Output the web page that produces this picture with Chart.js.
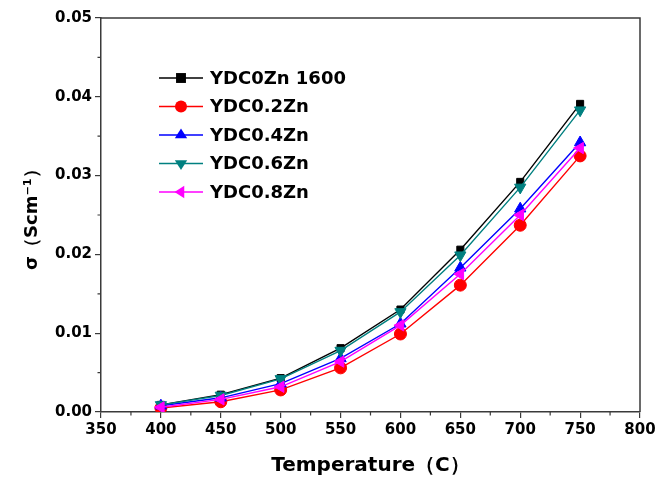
<!DOCTYPE html>
<html>
<head>
<meta charset="utf-8">
<script src="https://cdn.jsdelivr.net/npm/chart.js@4.4.1/dist/chart.umd.min.js"></script>
<style>
  body { margin: 0; background: #fff; }
  #wrap { width: 672px; height: 485px; position: relative; }
</style>
</head>
<body>
<div id="wrap"><canvas id="chart"></canvas></div>
<script>
const temps = [400, 450, 500, 550, 600, 650, 700, 750];

const seriesNames = ['YDC0Zn 1600', 'YDC0.2Zn', 'YDC0.4Zn', 'YDC0.6Zn', 'YDC0.8Zn'];
const zn0 = [0.0009, 0.0022, 0.0043, 0.0081, 0.0130, 0.0206, 0.0292, 0.0391];
const zn02 = [0.0005, 0.0013, 0.0028, 0.0056, 0.0099, 0.0161, 0.0237, 0.0325];
const zn04 = [0.0008, 0.0018, 0.0036, 0.0068, 0.0112, 0.0183, 0.0258, 0.0342];
const zn06 = [0.0009, 0.0021, 0.0042, 0.0078, 0.0127, 0.0199, 0.0285, 0.0383];
const zn08 = [0.0006, 0.0016, 0.0032, 0.0064, 0.0110, 0.0175, 0.0250, 0.0335];

const FONT = "'DejaVu Sans', 'Liberation Sans', sans-serif";
const AXIS = '#3a3a3a';

function makeSet(i, values, color, style, rotation, radius, order) {
  return {
    label: seriesNames[i],
    data: temps.map((t, j) => ({ x: t, y: values[j] })),
    borderColor: color,
    backgroundColor: color,
    borderWidth: 1.4,
    pointStyle: style,
    pointRotation: rotation,
    pointRadius: radius,
    pointBorderWidth: 1,
    pointBorderColor: color,
    pointBackgroundColor: color,
    tension: 0,
    order
  };
}

const datasets = [
  makeSet(0, zn0, '#000000', 'rect', 0, 5, 5),
  makeSet(1, zn02, '#ff0000', 'circle', 0, 6, 4),
  makeSet(2, zn04, '#0000ff', 'triangle', 0, 6.5, 3),
  makeSet(3, zn06, '#008080', 'triangle', 180, 6.5, 2),
  makeSet(4, zn08, '#ff00ff', 'triangle', -90, 6.5, 1)
];

function drawMarker(ctx, style, rotation, r, x, y, color) {
  ctx.save();
  ctx.fillStyle = color;
  ctx.translate(x, y);
  ctx.rotate(rotation * Math.PI / 180);
  ctx.beginPath();
  if (style === 'rect') {
    const s = r / Math.SQRT2 * 1.4;
    ctx.rect(-s, -s, 2 * s, 2 * s);
  } else if (style === 'circle') {
    ctx.arc(0, 0, r, 0, Math.PI * 2);
  } else {
    const h = r * 1.5;
    ctx.moveTo(0, -r);
    ctx.lineTo(r * 0.95, h - r);
    ctx.lineTo(-r * 0.95, h - r);
    ctx.closePath();
  }
  ctx.fill();
  ctx.restore();
}

const framePlugin = {
  id: 'frame',
  afterDraw(chart) {
    const { ctx, chartArea: a, scales } = chart;
    ctx.save();
    ctx.strokeStyle = AXIS;
    ctx.lineWidth = 1.5;
    ctx.beginPath();
    ctx.moveTo(a.left, a.top);
    ctx.lineTo(a.right, a.top);
    ctx.lineTo(a.right, a.bottom);
    ctx.stroke();
    // minor ticks
    ctx.lineWidth = 1.2;
    ctx.beginPath();
    for (let v = 375; v < 800; v += 50) {
      const px = scales.x.getPixelForValue(v);
      ctx.moveTo(px, a.bottom);
      ctx.lineTo(px, a.bottom + 3.5);
    }
    for (let k = 0; k < 5; k++) {
      const py = scales.y.getPixelForValue(0.005 + k * 0.01);
      ctx.moveTo(a.left, py);
      ctx.lineTo(a.left - 3.5, py);
    }
    ctx.stroke();
    ctx.restore();
  }
};

const legendPlugin = {
  id: 'boxLegend',
  afterDatasetsDraw(chart) {
    const { ctx, chartArea: a } = chart;
    const x0 = a.left + 58, x1 = a.left + 102, xt = a.left + 109;
    ctx.save();
    chart.data.datasets.forEach((ds, i) => {
      const y = a.top + 60 + i * 28.5;
      ctx.strokeStyle = ds.borderColor;
      ctx.lineWidth = 1.4;
      ctx.beginPath();
      ctx.moveTo(x0, y);
      ctx.lineTo(x1, y);
      ctx.stroke();
      drawMarker(ctx, ds.pointStyle, ds.pointRotation, ds.pointRadius, (x0 + x1) / 2, y, ds.borderColor);
      ctx.fillStyle = '#000';
      ctx.font = 'bold 18px ' + FONT;
      ctx.textBaseline = 'middle';
      ctx.textAlign = 'left';
      ctx.fillText(ds.label, xt, y + 1);
    });
    ctx.restore();
  }
};

new Chart(document.getElementById('chart'), {
  type: 'line',
  data: { datasets },
  plugins: [framePlugin, legendPlugin],
  options: {
    responsive: true,
    maintainAspectRatio: false,
    animation: false,
    layout: { padding: { top: 18, right: 32, bottom: 0, left: 0 } },
    plugins: {
      legend: { display: false },
      tooltip: { enabled: false }
    },
    scales: {
      x: {
        type: 'linear',
        min: 350,
        max: 800,
        ticks: {
          stepSize: 50,
          color: '#000',
          padding: 3,
          maxRotation: 0,
          font: { family: FONT, size: 15, weight: 'bold' }
        },
        grid: { drawOnChartArea: false, drawTicks: true, tickLength: 6, color: AXIS, lineWidth: 1.2 },
        border: { display: true, color: AXIS, width: 1.5 },
        title: {
          display: true,
          text: 'Temperature（C）',
          color: '#000',
          padding: { top: 0, bottom: 7 },
          font: { family: FONT, size: 20, weight: 'bold' }
        },
        afterFit(scale) { scale.height = 73; }
      },
      y: {
        min: 0,
        max: 0.05,
        ticks: {
          stepSize: 0.01,
          color: '#000',
          padding: 3,
          font: { family: FONT, size: 15, weight: 'bold' },
          callback: v => v.toFixed(2)
        },
        grid: { drawOnChartArea: false, drawTicks: true, tickLength: 6, color: AXIS, lineWidth: 1.2 },
        border: { display: true, color: AXIS, width: 1.5 },
        title: {
          display: true,
          text: 'σ（Scm⁻¹）',
          color: '#000',
          padding: { top: 22, bottom: 0 },
          font: { family: FONT, size: 18, weight: 'bold' }
        },
        afterFit(scale) { scale.width = 101; }
      }
    }
  }
});
</script>
</body>
</html>
